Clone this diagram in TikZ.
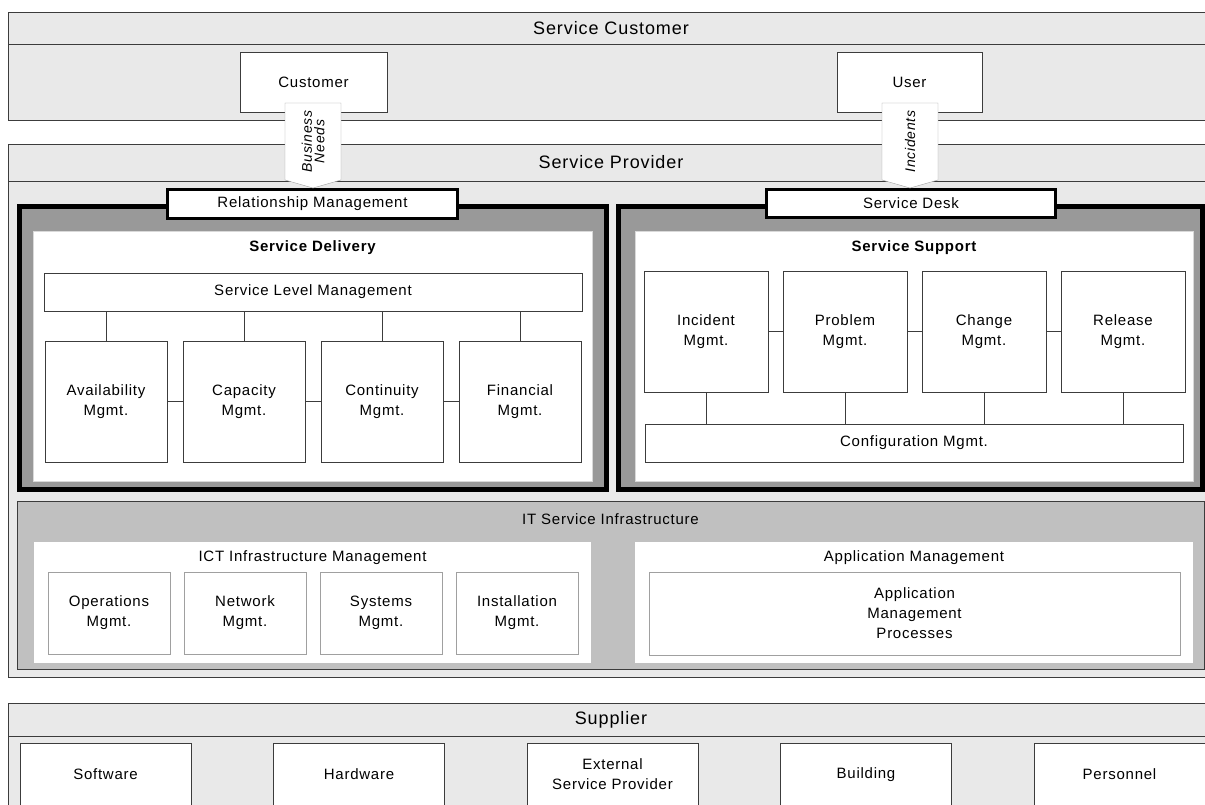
\documentclass[tikz,border=0pt]{standalone}
\usepackage{fontspec}
\setmainfont{Liberation Sans}[LetterSpace=5]
\usetikzlibrary{positioning,shapes.symbols}

\definecolor{layergray}{HTML}{E9E9E9}
\definecolor{framegray}{HTML}{999999}
\definecolor{infragray}{HTML}{C0C0C0}
\definecolor{linegray}{HTML}{3C3C3C}
\definecolor{softgray}{HTML}{A0A0A0}

\begin{document}
\begin{tikzpicture}[x=1pt,y=-1pt,
    every node/.style={font=\fontsize{15}{20}\selectfont,inner sep=0pt,outer sep=0pt},
    layer head/.style={draw=linegray,fill=layergray,anchor=north west,minimum width=1206,
        font=\fontsize{18}{20}\selectfont},
    layer body/.style={draw=linegray,fill=layergray,anchor=north west,minimum width=1206},
    party box/.style={draw=linegray,fill=white,minimum height=60,align=center},
    frame box/.style={draw=black,line width=5pt,fill=framegray,minimum height=283},
    tab box/.style={draw=black,line width=3pt,fill=white},
    white box/.style={fill=white,draw=white!85!black,anchor=north west},
    group title/.style={font=\bfseries\fontsize{15}{20}\selectfont},
    proc box/.style={draw=linegray,fill=white,align=center},
    infra box/.style={draw=softgray,fill=white,align=center},
    need arrow/.style={signal,signal from=nowhere,signal to=west,signal pointer angle=148,
        draw=softgray,fill=white,rotate=90,align=center,minimum height=56,
        font=\itshape\fontsize{14}{12.5}\selectfont}]

    \useasboundingbox (0,0) rectangle (1205,804);
    \clip (0,0) rectangle (1205,804);
    \fill[white] (0,0) rectangle (1205,804);

    % Service customer layer
    \node[layer head,minimum height=32] (custhead) at (8,12) {Service Customer};
    \node[layer body,minimum height=76] (custlayer) at (8,44) {};
    \node[party box,minimum width=147,anchor=north west] (customer) at (240,52) {Customer};
    \node[party box,minimum width=145,anchor=north west] (user) at (837,52) {User};

    % Service provider layer
    \node[layer head,minimum height=37] (provhead) at (8,144) {Service Provider};
    \node[layer body,minimum height=496] (provlayer) at (8,181) {};

    % Delivery and support frames
    \node[frame box,minimum width=587] (delframe) at (313,348) {};
    \node[frame box,minimum width=583.5] (supframe) at (910.25,348) {};
    \node[white box,minimum width=559,minimum height=250] (delivery) at (33,231) {};
    \node[white box,minimum width=558,minimum height=250] (support) at (635,231) {};
    \node[tab box,minimum width=290,minimum height=29] (relmgmt) at (312.5,204) {Relationship Management};
    \node[tab box,minimum width=289,minimum height=28] (servdesk) at (911,203.5) {Service Desk};
    \node[group title] (deltitle) at (312.5,248) {Service Delivery};
    \node[group title] (suptitle) at (914,248) {Service Support};

    % Service delivery processes
    \node[proc box,minimum width=538,minimum height=38,anchor=north west] (slm) at (44,273) {Service Level Management};
    \node[proc box,minimum width=122,minimum height=121,anchor=north west] (avail) at (45,341) {Availability\\Mgmt.};
    \node[proc box,minimum width=122,minimum height=121,right=16pt of avail] (capa) {Capacity\\Mgmt.};
    \node[proc box,minimum width=122,minimum height=121,right=16pt of capa] (cont) {Continuity\\Mgmt.};
    \node[proc box,minimum width=122,minimum height=121,right=16pt of cont] (fin) {Financial\\Mgmt.};

    % Service support processes
    \node[proc box,minimum width=124,minimum height=121,anchor=north west] (incident) at (644,271) {Incident\\Mgmt.};
    \node[proc box,minimum width=124,minimum height=121,right=15pt of incident] (problem) {Problem\\Mgmt.};
    \node[proc box,minimum width=124,minimum height=121,right=15pt of problem] (change) {Change\\Mgmt.};
    \node[proc box,minimum width=124,minimum height=121,right=15pt of change] (release) {Release\\Mgmt.};
    \node[proc box,minimum width=538,minimum height=38,anchor=north west] (config) at (645,424) {Configuration Mgmt.};

    % Draw connectors
    \path[draw=linegray]
        (avail) edge (capa)
        (capa) edge (cont)
        (cont) edge (fin)
        (avail.north) edge (avail.north |- slm.south)
        (capa.north) edge (capa.north |- slm.south)
        (cont.north) edge (cont.north |- slm.south)
        (fin.north) edge (fin.north |- slm.south)
        (incident) edge (problem)
        (problem) edge (change)
        (change) edge (release)
        (incident.south) edge (incident.south |- config.north)
        (problem.south) edge (problem.south |- config.north)
        (change.south) edge (change.south |- config.north)
        (release.south) edge (release.south |- config.north);

    % IT service infrastructure
    \node[draw=linegray,fill=infragray,anchor=north west,minimum width=1187,minimum height=168] (infra) at (17,501) {};
    \node (infratitle) at (610.5,519) {IT Service Infrastructure};
    \node[fill=white,anchor=north west,minimum width=557,minimum height=121] (ictmgmt) at (34,542) {};
    \node (icttitle) at (312.5,558) {ICT Infrastructure Management};
    \node[infra box,minimum width=122,minimum height=82,anchor=north west] (ops) at (48,572) {Operations\\Mgmt.};
    \node[infra box,minimum width=122,minimum height=82,right=14pt of ops] (network) {Network\\Mgmt.};
    \node[infra box,minimum width=122,minimum height=82,right=14pt of network] (systems) {Systems\\Mgmt.};
    \node[infra box,minimum width=122,minimum height=82,right=14pt of systems] (install) {Installation\\Mgmt.};
    \node[fill=white,anchor=north west,minimum width=558,minimum height=121] (appmgmt) at (635,542) {};
    \node (apptitle) at (914,558) {Application Management};
    \node[infra box,minimum width=531,minimum height=83,anchor=north west] (appproc) at (649,572) {Application\\Management\\Processes};

    % Supplier layer
    \node[layer head,minimum height=33] (supphead) at (8,703) {Supplier};
    \node[layer body,minimum height=90] (supplayer) at (8,736) {};
    \node[party box,minimum width=171,minimum height=63,anchor=north west] (software) at (20,743) {Software};
    \node[party box,minimum width=171,minimum height=63,right=82.5pt of software] (hardware) {Hardware};
    \node[party box,minimum width=171,minimum height=63,right=82.5pt of hardware] (extprov) {External\\Service Provider};
    \node[party box,minimum width=171,minimum height=63,right=82.5pt of extprov] (building) {Building};
    \node[party box,minimum width=171,minimum height=63,right=82.5pt of building] (personnel) {Personnel};

    % Flows into the provider
    \node[need arrow,minimum width=85] (bizneeds) at (313,141.5) {Business\\Needs};
    \node[need arrow,minimum width=85] (incidents) at (910,141.5) {Incidents};

\end{tikzpicture}
\end{document}
